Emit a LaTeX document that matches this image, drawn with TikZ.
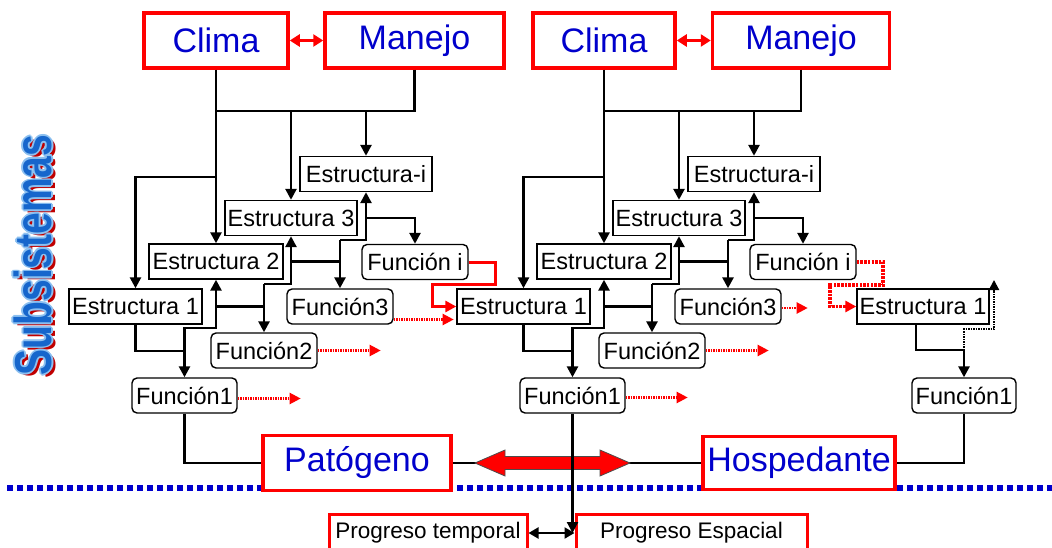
\documentclass[tikz,border=0pt]{standalone}
\usepackage{fontspec}
\setmainfont{Liberation Sans}
\usetikzlibrary{arrows.meta, positioning, calc}
\definecolor{txtblue}{HTML}{0000CC}
\definecolor{subblue}{HTML}{1666CC}
\definecolor{sublight}{HTML}{8CC0F0}
\definecolor{subshadow}{HTML}{C00000}
\newcommand{\smallfont}{\fontsize{23.5pt}{27pt}\selectfont}
\newcommand{\progfont}{\fontsize{22.5pt}{26pt}\selectfont}
\newcommand{\bigfont}{\fontsize{34pt}{38pt}\selectfont}
\newcommand{\subfont}{\fontsize{52pt}{52pt}\selectfont\bfseries}
\newcommand{\subword}{\scalebox{0.75}[1]{Subsistemas}}

\begin{document}
\begin{tikzpicture}[x=1pt, y=-1pt,
    big/.style={draw=red, line width=3.5pt, fill=white, text=txtblue, font=\bigfont, inner sep=0pt},
    est/.style={draw, line width=1.4pt, fill=white, font=\smallfont, inner sep=0pt, minimum height=35pt},
    fun/.style={est, rounded corners=5pt},
    prog/.style={draw=red, line width=3pt, fill=white, font=\progfont, inner sep=0pt, minimum height=38pt},
    link/.style={line width=2.6pt},
    arrow/.style={link, -{Triangle[length=11pt, width=11pt]}},
    twoway/.style={line width=2.2pt, {Triangle[length=10pt, width=11pt]}-{Triangle[length=10pt, width=11pt]}},
    redtwo/.style={red, line width=2.6pt, {Triangle[length=10pt, width=12pt]}-{Triangle[length=10pt, width=12pt]}},
    redarrow/.style={red, line width=3pt, -{Triangle[length=11pt, width=11pt]}},
    reddot/.style={red, line width=2.2pt, dash pattern=on 1.5pt off 1pt, -{Triangle[length=11pt, width=11pt]}},
    reddotbig/.style={red, line width=3.2pt, dash pattern=on 2.5pt off 1.2pt, -{Triangle[length=11pt, width=11pt]}},
    blackdot/.style={line width=2pt, dash pattern=on 1.5pt off 1pt, -{Triangle[length=10pt, width=10pt]}},
    subtxt/.style={rotate=90, font=\subfont, inner sep=0pt},
]
\useasboundingbox (0,0) rectangle (1052,548);

% Side title
\coordinate (subc) at (33,255);
\node[subtxt, text=subshadow] (subsh) at ($(subc)+(3.5,3)$) {\subword};
\foreach \dx/\dy [count=\k] in {1.7/0, -1.7/0, 0/1.7, 0/-1.7, 1.2/1.2, 1.2/-1.2, -1.2/1.2, -1.2/-1.2}
  \node[subtxt, text=sublight] (subol\k) at ($(subc)+(\dx,\dy)$) {\subword};
\node[subtxt, text=subblue] (subs) at (subc) {\subword};

% Dotted ground line
\draw[txtblue, line width=5.5pt, dash pattern=on 6pt off 4pt] (7,488) -- (1052,488);

% Pathogen and host
\node[big, minimum width=188pt, minimum height=55pt] (pato) at (357,463) {Patógeno};
\node[big, minimum width=192pt, minimum height=53pt] (hosp) at (799,463) {Hospedante};
\draw[link, line width=2.4pt] (pato.east) -- (hosp.west);
\coordinate (mid) at (552.5,463);
\begin{scope}[shift={(mid)}]
  \filldraw[fill=red, draw=black!70, line width=0.8pt]
    (-77.5,0) -- (-47.5,-13) -- (-47.5,-6.5) -- (47.5,-6.5) -- (47.5,-13) -- (77.5,0)
    -- (47.5,13) -- (47.5,6.5) -- (-47.5,6.5) -- (-47.5,13) -- cycle;
\end{scope}

% Progress boxes
\node[prog, minimum width=198pt] (ptemp) at (428,533) {Progreso temporal};
\node[prog, minimum width=231pt] (pesp) at (691.5,533) {Progreso Espacial};
\draw[twoway] (ptemp.east) -- (pesp.west);

% Left subsystem
\node[big, minimum width=144pt, minimum height=55pt] (climaA) at (216,40.5) {Clima};
\node[big, minimum width=179pt, minimum height=55pt] (manejoA) at (414.5,40.5) {Manejo};
\node[est, minimum width=132pt] (estiA) at (366,174) {Estructura-i};
\node[est, minimum width=132pt] (est3A) at (291,218) {Estructura 3};
\node[est, minimum width=134pt] (est2A) at (216,261.5) {Estructura 2};
\node[est, minimum width=133pt] (est1A) at (135.5,306.5) {Estructura 1};
\node[fun, minimum width=106pt] (fniA) at (415,262) {Función i};
\node[fun, minimum width=106pt] (fn3A) at (340,306.5) {Función3};
\node[fun, minimum width=106pt] (fn2A) at (264,350.5) {Función2};
\node[fun, minimum width=105pt] (fn1A) at (184.5,395.5) {Función1};
\draw[redtwo] (climaA.east) -- (manejoA.west);
\coordinate (busA) at (216,111);
\coordinate (forkA) at (216,177);
\coordinate (j1A) at (184.5,351);
\draw[arrow] (climaA.south) -- (est2A.north);
\draw[link, line width=2.2pt] (manejoA.south) |- (busA);
\draw[arrow] (busA) -| (estiA.north);
\draw[arrow] (est3A.north |- busA) -- (est3A.north);
\draw[arrow] (forkA) -| (est1A.north);
\draw[arrow] (est1A.south) |- (j1A) -- (fn1A.north);
\draw[arrow] (j1A) |- (est2A.south |- 0,328) -- (est2A.south);
\draw[link] (est2A.south |- est1A) -- (fn2A.north |- est1A);
\draw[arrow] (fn2A.north |- 0,284) -- (fn2A.north);
\draw[arrow] (fn2A.north |- 0,284) -| (est3A.south);
\draw[link] (est3A.south |- est2A) -- (fn3A.north |- est2A);
\draw[arrow] (fn3A.north |- 0,240) -- (fn3A.north);
\draw[arrow] (fn3A.north |- 0,240) -| (estiA.south);
\draw[arrow] (estiA.south |- est3A) -| (fniA.north);
\draw[link, line width=2.4pt] (fn1A.south) |- (pato.west);
\draw[reddot] ($(fn1A.east)+(0,3)$) -- ++(63,0);
\draw[reddot] (fn2A.east) -- ++(63,0);
\draw[reddot] ($(fn3A.east)+(0,13)$) -- ++(60,0);

% Right subsystem
\begin{scope}[xshift=388pt]
\node[big, minimum width=142pt, minimum height=55pt] (climaB) at (216,40.5) {Clima};
\node[big, minimum width=177pt, minimum height=55pt] (manejoB) at (413,40.5) {Manejo};
\node[est, minimum width=132pt] (estiB) at (366,174) {Estructura-i};
\node[est, minimum width=132pt] (est3B) at (291,218) {Estructura 3};
\node[est, minimum width=134pt] (est2B) at (216,261.5) {Estructura 2};
\node[est, minimum width=133pt] (est1B) at (135.5,306.5) {Estructura 1};
\node[fun, minimum width=106pt] (fniB) at (415,262) {Función i};
\node[fun, minimum width=106pt] (fn3B) at (340,306.5) {Función3};
\node[fun, minimum width=106pt] (fn2B) at (264,350.5) {Función2};
\node[fun, minimum width=105pt] (fn1B) at (184.5,395.5) {Función1};
\coordinate (busB) at (216,111);
\coordinate (forkB) at (216,177);
\coordinate (j1B) at (184.5,351);
\end{scope}
\draw[redtwo] (climaB.east) -- (manejoB.west);
\draw[arrow] (climaB.south) -- (est2B.north);
\draw[link, line width=2.2pt] (manejoB.south) |- (busB);
\draw[arrow] (busB) -| (estiB.north);
\draw[arrow] (est3B.north |- busB) -- (est3B.north);
\draw[arrow] (forkB) -| (est1B.north);
\draw[arrow] (est1B.south) |- (j1B) -- (fn1B.north);
\draw[arrow] (j1B) |- (est2B.south |- 0,328) -- (est2B.south);
\draw[link] (est2B.south |- est1B) -- (fn2B.north |- est1B);
\draw[arrow] (fn2B.north |- 0,284) -- (fn2B.north);
\draw[arrow] (fn2B.north |- 0,284) -| (est3B.south);
\draw[link] (est3B.south |- est2B) -- (fn3B.north |- est2B);
\draw[arrow] (fn3B.north |- 0,240) -- (fn3B.north);
\draw[arrow] (fn3B.north |- 0,240) -| (estiB.south);
\draw[arrow] (estiB.south |- est3B) -| (fniB.north);
\draw[reddot] ($(fn1B.east)+(0,2)$) -- ++(62,0);
\draw[reddot] (fn2B.east) -- ++(63,0);
\draw[reddot] ($(fn3B.east)+(0,1.5)$) -- ++(26,0);
\draw[arrow, line width=2.2pt] (fn1B.south) -- (fn1B.south |- ptemp.east);

% Function i feeds the next structure
\draw[redarrow] (fniA.east) -| (495,284) -| (432,306.5) -- (est1B.west);

% Host subsystem
\node[est, minimum width=132pt] (est1C) at (923,306.5) {Estructura 1};
\node[fun, minimum width=104pt] (fn1C) at (964,395.5) {Función1};
\coordinate (j1C) at (964,350);
\coordinate (upC) at (994,280);
\draw[reddotbig] (fniB.east) -| (883,285) -| (830,306.5) -- (est1C.west);
\draw[arrow] ([xshift=-7pt]est1C.south) |- (j1C) -- (fn1C.north);
\draw[blackdot] (j1C) |- (994,329) -- (upC);
\draw[link, line width=2.4pt] (fn1C.south) |- (hosp.east);
\end{tikzpicture}
\end{document}
